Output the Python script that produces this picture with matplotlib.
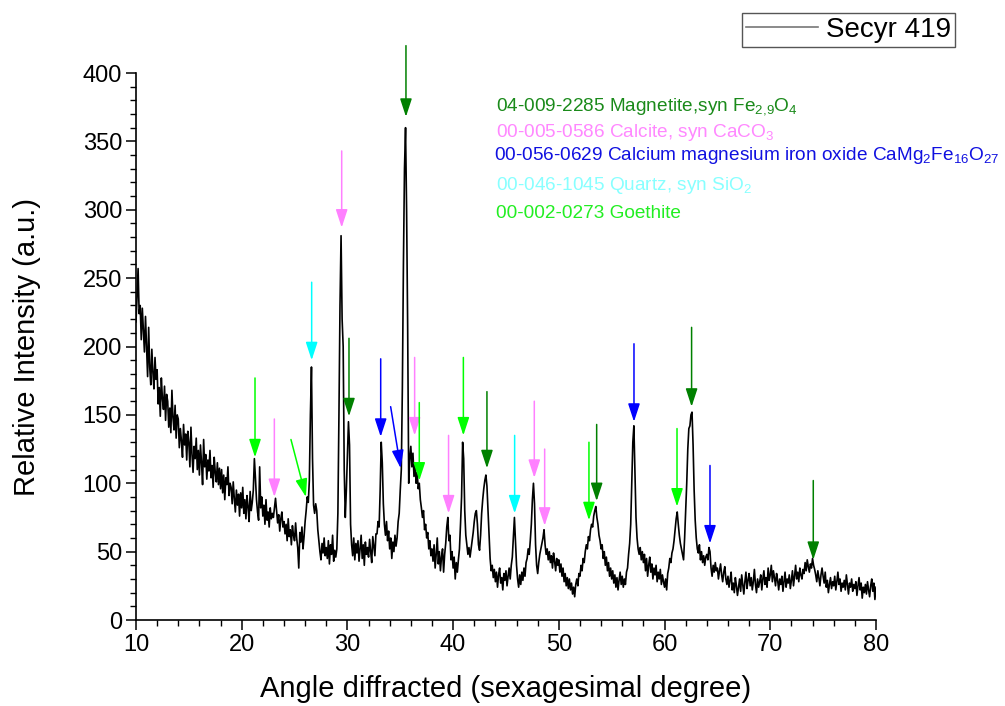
import numpy as np
import matplotlib
matplotlib.use("Agg")
import matplotlib.pyplot as plt
from matplotlib.ticker import MultipleLocator

plt.rcParams['font.family'] = ['Liberation Sans', 'DejaVu Sans']
plt.rcParams['mathtext.fontset'] = 'custom'
plt.rcParams['mathtext.rm'] = 'Liberation Sans'
plt.rcParams['mathtext.it'] = 'Liberation Sans:italic'

# diffractogram at 0.1 degree steps (one row per degree)
angle_start = 10.0
angle_step = 0.1
intensity = [
    218, 236, 257, 224, 230, 205, 228, 212, 196, 222,   # 10
    201, 178, 214, 185, 172, 198, 181, 169, 192, 176,   # 11
    183, 158, 170, 149, 177, 162, 154, 171, 146, 165,   # 12
    160, 141, 155, 137, 168, 148, 139, 157, 133, 150,   # 13
    147, 126, 140, 131, 119, 143, 128, 136, 117, 138,   # 14
    130, 112, 141, 121, 108, 127, 118, 133, 110, 124,   # 15
    106, 128, 115, 99, 132, 112, 121, 103, 117, 109,    # 16
    124, 104, 113, 97, 119, 108, 101, 115, 99, 111,     # 17
    96, 110, 93, 106, 88, 104, 99, 112, 91, 100,        # 18
    97, 85, 101, 89, 79, 95, 84, 92, 76, 93,            # 19
    82, 97, 78, 88, 74, 91, 83, 72, 94, 80,             # 20
    86, 95, 118, 104, 88, 79, 73, 112, 82, 90,          # 21
    76, 84, 70, 88, 73, 79, 68, 82, 74, 78,             # 22
    75, 82, 89, 80, 71, 77, 65, 74, 79, 68,             # 23
    72, 63, 70, 58, 74, 61, 66, 55, 69, 62,             # 24
    58, 71, 60, 53, 38, 64, 57, 68, 52, 61,             # 25
    72, 80, 90, 86, 102, 150, 185, 118, 84, 78,         # 26
    85, 80, 66, 58, 50, 44, 56, 49, 60, 47,             # 27
    53, 45, 58, 41, 55, 48, 62, 43, 51, 46,             # 28
    52, 78, 150, 230, 281, 220, 200, 110, 75, 95,       # 29
    120, 145, 128, 70, 55, 47, 60, 44, 56, 49,          # 30
    58, 43, 52, 62, 45, 55, 40, 57, 48, 53,             # 31
    46, 59, 50, 42, 61, 54, 47, 63, 63, 72,             # 32
    68, 95, 130, 115, 85, 70, 62, 72, 58, 65,           # 33
    52, 60, 45, 57, 50, 62, 54, 60, 72, 78,             # 34
    95, 110, 170, 260, 330, 360, 300, 215, 100, 118,    # 35
    127, 112, 122, 105, 115, 100, 108, 96, 100, 88,     # 36
    82, 75, 80, 66, 70, 60, 64, 52, 58, 47,             # 37
    52, 43, 55, 38, 48, 60, 41, 50, 36, 46,             # 38
    52, 35, 48, 56, 68, 75, 58, 62, 44, 50,             # 39
    38, 46, 30, 42, 35, 44, 52, 70, 90, 130,            # 40
    118, 80, 62, 55, 48, 53, 46, 52, 58, 64,            # 41
    72, 78, 80, 70, 55, 51, 62, 78, 88, 96,             # 42
    102, 106, 98, 80, 62, 45, 36, 40, 31, 37,           # 43
    28, 35, 24, 33, 38, 27, 31, 22, 34, 29,             # 44
    36, 25, 32, 38, 30, 40, 46, 60, 75, 58,             # 45
    40, 30, 24, 33, 26, 35, 29, 38, 32, 42,             # 46
    45, 52, 48, 58, 70, 88, 100, 85, 55, 40,            # 47
    34, 42, 48, 52, 56, 60, 66, 55, 48, 52,             # 48
    44, 50, 42, 47, 38, 49, 43, 36, 45, 40,             # 49
    44, 35, 41, 32, 38, 28, 34, 25, 31, 23,             # 50
    30, 22, 27, 19, 24, 17, 26, 30, 25, 34,             # 51
    32, 40, 36, 45, 42, 50, 55, 52, 61, 58,             # 52
    66, 70, 68, 76, 80, 83, 75, 70, 62, 58,             # 53
    52, 55, 45, 50, 40, 46, 36, 42, 32, 38,             # 54
    30, 36, 27, 33, 24, 31, 22, 29, 35, 26,             # 55
    32, 24, 30, 26, 35, 38, 48, 56, 70, 100,            # 56
    130, 142, 110, 75, 60, 52, 48, 53, 44, 50,          # 57
    42, 48, 36, 45, 32, 40, 46, 35, 41, 30,             # 58
    38, 33, 40, 28, 35, 30, 37, 26, 33, 28,             # 59
    24, 30, 22, 34, 38, 45, 42, 49, 52, 58,             # 60
    66, 74, 79, 70, 62, 56, 52, 48, 44, 60,             # 61
    80, 100, 125, 140, 142, 150, 152, 128, 95, 73,      # 62
    60, 52, 49, 55, 44, 50, 42, 47, 40, 46,             # 63
    48, 44, 53, 50, 38, 32, 40, 35, 42, 36,             # 64
    38, 30, 36, 41, 33, 28, 35, 39, 30, 26,             # 65
    32, 24, 29, 35, 22, 27, 20, 31, 25, 18,             # 66
    24, 30, 21, 33, 26, 19, 28, 35, 23, 29,             # 67
    34, 25, 31, 22, 28, 37, 26, 20, 30, 24,             # 68
    28, 33, 22, 30, 36, 26, 31, 24, 38, 29,             # 69
    33, 40, 28, 36, 31, 25, 34, 29, 22, 30,             # 70
    26, 32, 21, 28, 35, 24, 30, 27, 33, 23,             # 71
    29, 36, 25, 32, 40, 30, 35, 28, 38, 33,             # 72
    30, 37, 34, 42, 36, 44, 39, 35, 41, 38,             # 73
    45, 40, 37, 33, 28, 36, 31, 25, 33, 38,             # 74
    32, 27, 35, 24, 29, 20, 26, 31, 23, 28,             # 75
    25, 32, 22, 28, 35, 26, 30, 21, 27, 24,             # 76
    29, 22, 33, 26, 19, 27, 24, 30, 21, 26,             # 77
    23, 28, 18, 25, 31, 22, 27, 16, 24, 20,             # 78
    26, 19, 28, 22, 17, 25, 30, 21, 27, 15,             # 79
    24,                                                 # 80
]

# phase identification arrows: tip angle, tip height, tail angle, tail height, phase
arrow_tip_angle = [21.26, 23.09, 26.08, 26.62, 29.46, 30.15, 33.15, 35.04, 35.54, 36.36, 36.8, 39.57,
                   40.97, 43.2, 45.82, 47.68, 48.66, 52.85, 53.58, 57.11, 61.18, 62.56, 64.3, 74.07]
arrow_tip = [119, 90, 90, 190, 287, 149, 134, 111, 368, 135, 102, 78,
             135, 111, 78, 104, 69, 73, 87, 145, 83, 156, 56, 44]
arrow_tail_angle = [21.26, 23.09, 24.66, 26.62, 29.46, 30.15, 33.15, 34.09, 35.54, 36.36, 36.8, 39.57,
                    40.97, 43.2, 45.82, 47.68, 48.66, 52.85, 53.58, 57.11, 61.18, 62.56, 64.3, 74.07]
arrow_tail = [177, 147, 132, 247, 343, 206, 191, 156, 420, 192, 159, 135,
              192, 167, 135, 160, 125, 130, 143, 202, 140, 214, 113, 102]
arrow_phase = ['goe', 'cal', 'goe', 'qtz', 'cal', 'mag', 'cmf', 'cmf', 'mag', 'cal', 'goe', 'cal',
               'goe', 'mag', 'qtz', 'cal', 'cal', 'goe', 'mag', 'cmf', 'goe', 'mag', 'cmf', 'mag']

phase_keys = ['mag', 'cal', 'cmf', 'qtz', 'goe']
phase_labels = [
    '04-009-2285 Magnetite,syn Fe$_{2{,}9}$O$_4$',
    '00-005-0586 Calcite, syn CaCO$_3$',
    '00-056-0629 Calcium magnesium iron oxide CaMg$_2$Fe$_{16}$O$_{27}$',
    '00-046-1045 Quartz, syn SiO$_2$',
    '00-002-0273 Goethite',
]
arrow_colors = {'mag': '#008000', 'cal': '#ff80ff', 'cmf': '#0000ff', 'qtz': '#00ffff', 'goe': '#00ff00'}
text_colors = {'mag': '#1a8a1a', 'cal': '#ff88ff', 'cmf': '#1010e0', 'qtz': '#88ffff', 'goe': '#22ee22'}
label_angle = [44.1, 44.1, 43.9, 44.05, 44.1]
label_base = [372.5, 353.5, 336.5, 314.5, 294.0]

two_theta = angle_start + angle_step * np.arange(len(intensity))

fig = plt.figure(figsize=(10.05, 7.06), dpi=100)
ax = fig.add_axes([0.1353, 0.1218, 0.7363, 0.7748])

trace, = ax.plot(two_theta, intensity, color='black', lw=1.2)

for ta, ty, sa, sy, ph in zip(arrow_tip_angle, arrow_tip, arrow_tail_angle, arrow_tail, arrow_phase):
    ax.annotate('', xy=(ta, ty), xytext=(sa, sy), annotation_clip=False,
                arrowprops=dict(arrowstyle='-|>,head_length=0.55,head_width=0.18',
                                color=arrow_colors[ph], lw=1.1, mutation_scale=20,
                                shrinkA=0, shrinkB=0))

for key, lab, xa, yb in zip(phase_keys, phase_labels, label_angle, label_base):
    ax.text(xa, yb, lab, color=text_colors[key], fontsize=13.7, va='baseline', ha='left')

ax.set_xlim(10, 80)
ax.set_ylim(0, 400)
ax.xaxis.set_major_locator(MultipleLocator(10))
ax.xaxis.set_minor_locator(MultipleLocator(2))
ax.yaxis.set_major_locator(MultipleLocator(50))
ax.yaxis.set_minor_locator(MultipleLocator(10))
ax.tick_params(which='major', direction='out', length=7, width=1.1, labelsize=17, pad=3)
ax.tick_params(which='minor', direction='out', length=4, width=1.0)
for s in ['top', 'right']:
    ax.spines[s].set_visible(False)
for s in ['left', 'bottom']:
    ax.spines[s].set_linewidth(1.2)

ax.set_xlabel('Angle diffracted (sexagesimal degree)', fontsize=21, labelpad=14)
ax.set_ylabel('Relative Intensity (a.u.)', fontsize=21, labelpad=30)

leg = ax.legend([trace], ['Secyr 419'], loc='center', bbox_to_anchor=(0.8445, 0.9575),
                bbox_transform=fig.transFigure, fancybox=False, edgecolor='#555555',
                fontsize=20, handlelength=2.6, handletextpad=0.3, framealpha=1,
                borderpad=0.14, borderaxespad=0)
leg.get_lines()[0].set_color('#777777')

fig.savefig('out.png', dpi=100)
